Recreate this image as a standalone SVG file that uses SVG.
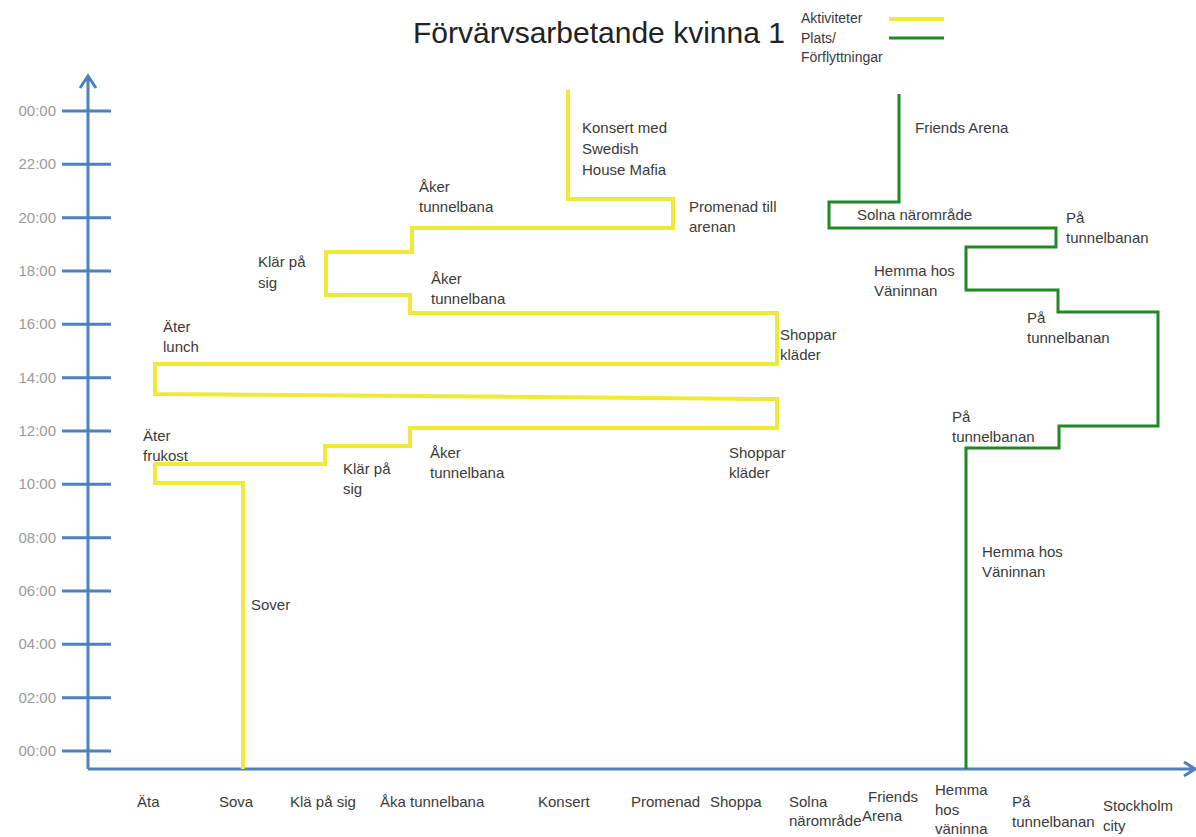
<svg xmlns="http://www.w3.org/2000/svg" width="1196" height="837" viewBox="0 0 1196 837">
<style>
.ax{stroke:#4f81bd;stroke-width:3;fill:none}
.tk{fill:#9a9a9a;font-family:"Liberation Sans",Arial,sans-serif;font-size:15px;text-anchor:end}
.lb{fill:#3a3a3a;font-family:"Liberation Sans",Arial,sans-serif;font-size:15px}
.lg{fill:#3a3a3a;font-family:"Liberation Sans",Arial,sans-serif;font-size:14px}
.yl{stroke:#efe93a;stroke-width:4;fill:none;stroke-linejoin:miter}
.gr{stroke:#1f8a24;stroke-width:3;fill:none;stroke-linejoin:miter}
</style>
<rect width="1196" height="837" fill="#ffffff"/>
<g id="title">
<text x="413" y="43" style="fill:#222;font-family:'Liberation Sans',Arial,sans-serif;font-size:30px">Förvärvsarbetande kvinna 1</text>
</g>
<g id="legend">
<text class="lg" x="801" y="23">Aktiviteter</text>
<text class="lg" x="801" y="43">Plats/</text>
<text class="lg" x="801" y="62">Förflyttningar</text>
<line x1="889" y1="19" x2="944" y2="19" class="yl"/>
<line x1="889" y1="38" x2="944" y2="38" class="gr"/>
</g>
<g id="axes">
<path class="ax" d="M88,769 V76 M80,88 L88,76 L96,88"/>
<path class="ax" d="M88,769 H1194 M1184,762 L1195,769 L1184,776"/>
<path class="ax" d="M62,111 H111 M62,164.3 H111 M62,217.7 H111 M62,271 H111 M62,324.3 H111 M62,377.7 H111 M62,431 H111 M62,484.3 H111 M62,537.7 H111 M62,591 H111 M62,644.3 H111 M62,697.7 H111 M62,751 H111"/>
<text class="tk" x="56" y="116">00:00</text>
<text class="tk" x="56" y="169">22:00</text>
<text class="tk" x="56" y="223">20:00</text>
<text class="tk" x="56" y="276">18:00</text>
<text class="tk" x="56" y="329">16:00</text>
<text class="tk" x="56" y="383">14:00</text>
<text class="tk" x="56" y="436">12:00</text>
<text class="tk" x="56" y="489">10:00</text>
<text class="tk" x="56" y="543">08:00</text>
<text class="tk" x="56" y="596">06:00</text>
<text class="tk" x="56" y="649">04:00</text>
<text class="tk" x="56" y="703">02:00</text>
<text class="tk" x="56" y="756">00:00</text>
</g>
<g id="x-labels">
<text class="lb" x="137" y="807">Äta</text>
<text class="lb" x="219" y="807">Sova</text>
<text class="lb" x="290" y="807">Klä på sig</text>
<text class="lb" x="380" y="807">Åka tunnelbana</text>
<text class="lb" x="538" y="807">Konsert</text>
<text class="lb" x="631" y="807">Promenad</text>
<text class="lb" x="710" y="807">Shoppa</text>
<text class="lb" x="789" y="807">Solna<tspan x="789" y="826">närområde</tspan></text>
<text class="lb" x="868" y="802">Friends<tspan x="862" y="821">Arena</tspan></text>
<text class="lb" x="935" y="795">Hemma<tspan x="935" y="815">hos</tspan><tspan x="935" y="834">väninna</tspan></text>
<text class="lb" x="1012" y="807">På<tspan x="1012" y="827">tunnelbanan</tspan></text>
<text class="lb" x="1103" y="811">Stockholm<tspan x="1103" y="831">city</tspan></text>
</g>
<g id="connectors">
<path id="aktiviteter" class="yl" d="M243,769 V483 H155 V464 H325 V446 H410 V428 H777 V399 L155,394 V364 H777 V313 H410 V295 H326 V252 H412 V228 H673 V199 H568 V90"/>
<path id="platser" class="gr" d="M966,769 V448 H1059 V426 H1158 V312 H1058 V290 H966 V247 H1056 V228 H829 V202 H899 V94"/>
</g>
<g id="activity-labels">
<text class="lb" x="251" y="610">Sover</text>
<text class="lb" x="143" y="441">Äter<tspan x="143" y="461">frukost</tspan></text>
<text class="lb" x="343" y="474">Klär på<tspan x="343" y="494">sig</tspan></text>
<text class="lb" x="430" y="458">Åker<tspan x="430" y="478">tunnelbana</tspan></text>
<text class="lb" x="729" y="458">Shoppar<tspan x="729" y="478">kläder</tspan></text>
<text class="lb" x="163" y="332">Äter<tspan x="163" y="352">lunch</tspan></text>
<text class="lb" x="780" y="340">Shoppar<tspan x="780" y="360">kläder</tspan></text>
<text class="lb" x="431" y="284">Åker<tspan x="431" y="304">tunnelbana</tspan></text>
<text class="lb" x="258" y="267">Klär på<tspan x="258" y="288">sig</tspan></text>
<text class="lb" x="419" y="192">Åker<tspan x="419" y="212">tunnelbana</tspan></text>
<text class="lb" x="689" y="212">Promenad till<tspan x="689" y="232">arenan</tspan></text>
<text class="lb" x="582" y="133">Konsert med<tspan x="582" y="154">Swedish</tspan><tspan x="582" y="175">House Mafia</tspan></text>
</g>
<g id="place-labels">
<text class="lb" x="915" y="133">Friends Arena</text>
<text class="lb" x="857" y="220">Solna närområde</text>
<text class="lb" x="1066" y="223">På<tspan x="1066" y="243">tunnelbanan</tspan></text>
<text class="lb" x="874" y="276">Hemma hos<tspan x="874" y="296">Väninnan</tspan></text>
<text class="lb" x="1027" y="323">På<tspan x="1027" y="343">tunnelbanan</tspan></text>
<text class="lb" x="952" y="422">På<tspan x="952" y="442">tunnelbanan</tspan></text>
<text class="lb" x="982" y="557">Hemma hos<tspan x="982" y="577">Väninnan</tspan></text>
</g>
</svg>
